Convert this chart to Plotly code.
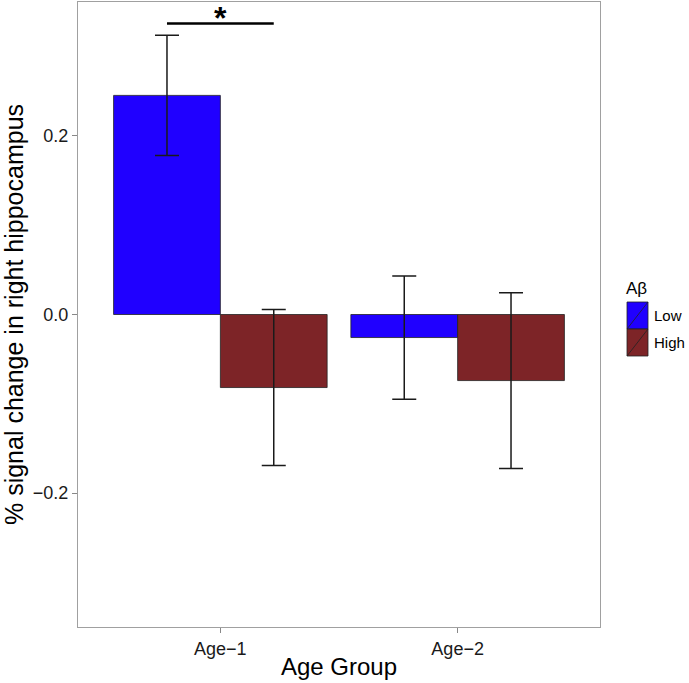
import plotly.graph_objects as go

categories = ["Age\u22121", "Age\u22122"]
low_values = [0.2454, -0.0258]
low_errors = [0.0673, 0.0690]
high_values = [-0.0818, -0.0740]
high_errors = [0.0873, 0.0985]
groups = ["Low", "High"]
colors = ["#2000FF", "#7D2427"]
ytick_vals = [-0.2, 0.0, 0.2]
ytick_text = ["\u22120.2", "0.0", "0.2"]

W, H = 689, 683
L, R, T, B = 78, 89, 2, 56
PW, PH = W - L - R, H - T - B


def px(x):
    return (x - L) / PW


def py(y):
    return (H - B - y) / PH


xs = [1, 2]
fig = go.Figure()
for name, vals, errs, col, off in [("Low", low_values, low_errors, colors[0], -0.225),
                                   ("High", high_values, high_errors, colors[1], 0.225)]:
    fig.add_trace(go.Bar(
        x=[v + off for v in xs], y=vals, width=0.45, name=name,
        marker=dict(color=col, line=dict(color="#222222", width=0.8)),
        error_y=dict(type="data", array=errs, visible=True, color="#1a1a1a",
                     thickness=1.5, width=12),
        showlegend=False,
    ))

# significance bracket
fig.add_trace(go.Scatter(x=[1 - 0.225, 1 + 0.225], y=[0.326, 0.326], mode="lines",
                         line=dict(color="black", width=2.5), showlegend=False,
                         hoverinfo="skip"))
fig.add_annotation(x=1, y=0.326, text="<b>*</b>", showarrow=False, yanchor="bottom",
                   yshift=-15, font=dict(size=32, color="black", family="Liberation Sans"))

# manual legend (ggplot style)
fig.add_annotation(xref="paper", yref="paper", x=px(624), y=py(288), xanchor="left",
                   yanchor="middle", text="A\u03b2", showarrow=False,
                   font=dict(size=17, color="black", family="Liberation Sans"))
key_x0, key_x1 = px(627), px(648)
key_tops = [302, 329]
key_h = 27
for lab, col, top in zip(groups, colors, key_tops):
    fig.add_shape(type="rect", xref="paper", yref="paper", x0=key_x0, x1=key_x1,
                  y0=py(top + key_h), y1=py(top), fillcolor=col,
                  line=dict(color="#222222", width=0.8))
    fig.add_shape(type="line", xref="paper", yref="paper", x0=key_x0, x1=key_x1,
                  y0=py(top + key_h), y1=py(top), line=dict(color="#222222", width=0.8))
    fig.add_annotation(xref="paper", yref="paper", x=px(652), y=py(top + key_h / 2),
                       xanchor="left", yanchor="middle", text=lab, showarrow=False,
                       font=dict(size=15, color="black", family="Liberation Sans"))

fig.update_layout(
    width=W, height=H,
    margin=dict(l=L, r=R, t=T, b=B),
    paper_bgcolor="white", plot_bgcolor="white",
    font=dict(family="Liberation Sans", color="black"),
    bargap=0.1,
)
fig.update_xaxes(range=[0.4, 2.6], tickvals=xs, ticktext=categories,
                 showgrid=False, zeroline=False, showline=True, mirror=True,
                 linecolor="#A0A0A0", linewidth=1, ticks="outside", ticklen=5,
                 tickcolor="#888888", tickfont=dict(size=18, color="#1a1a1a"),
                 title=dict(text="Age Group", font=dict(size=24), standoff=0))
fig.update_yaxes(range=[-0.35, 0.35], tickvals=ytick_vals, ticktext=ytick_text,
                 showgrid=False, zeroline=False, showline=True, mirror=True,
                 linecolor="#A0A0A0", linewidth=1, ticks="outside", ticklen=5,
                 tickcolor="#888888", tickfont=dict(size=18, color="#1a1a1a"),
                 title=dict(text="% signal change in right hippocampus",
                            font=dict(size=25), standoff=2))

fig.write_html("out.html", config={"displayModeBar": False},
               post_script="document.body.style.margin='0px';")
